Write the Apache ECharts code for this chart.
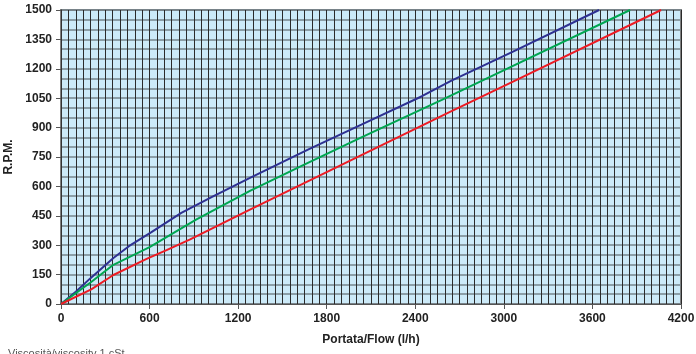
<!DOCTYPE html>
<html><head><meta charset="utf-8">
<script src="https://cdn.jsdelivr.net/npm/echarts@6/dist/echarts.min.js"></script>
<style>html,body{margin:0;padding:0;background:#fff}#c{width:696px;height:354px}</style>
</head><body><div id="c"></div>
<script>
const xTicks = [0, 600, 1200, 1800, 2400, 3000, 3600, 4200];
const yTicks = [0, 150, 300, 450, 600, 750, 900, 1050, 1200, 1350, 1500];
const blueX = [0, 100, 200, 355, 460, 610, 815, 1020, 1270, 1680, 2035, 2445, 2645, 3055, 3645];
const blueY = [0, 62, 132, 235, 295, 365, 465, 545, 640, 790, 915, 1060, 1140, 1285, 1500];
const greenX = [0, 200, 355, 600, 915, 1280, 1630, 2035, 2580, 3055, 3855];
const greenY = [0, 110, 200, 290, 430, 577, 705, 850, 1041, 1212, 1500];
const redX = [0, 205, 355, 580, 715, 875, 1280, 1630, 2035, 2635, 3055, 4065];
const redY = [0, 75, 148, 230, 275, 330, 482, 610, 760, 980, 1132, 1500];

const zip = (a, b) => a.map((v, i) => [v, b[i]]);
const chart = echarts.init(document.getElementById('c'), null, {renderer: 'canvas'});
const lbl = {color: '#222', fontFamily: 'Liberation Sans, Arial, sans-serif', fontWeight: 'bold', fontSize: 12};
const mk = (name, x, y, color) => ({
  name, type: 'line', data: zip(x, y), showSymbol: false, symbol: 'none', smooth: false,
  lineStyle: {color, width: 2}, z: 5
});
chart.setOption({
  animation: false,
  grid: {left: 61, right: 15, top: 10, bottom: 50, containLabel: false, outerBoundsMode: 'none', show: true, backgroundColor: '#cceaf8', borderColor: '#7f7f7f', borderWidth: 2},
  xAxis: {
    type: 'value', min: xTicks[0], max: xTicks[xTicks.length - 1], interval: 600,
    name: 'Portata/Flow (l/h)', nameLocation: 'middle', nameGap: 30,
    nameTextStyle: {...lbl, fontSize: 12},
    axisLabel: {...lbl, margin: 9, formatter: v => String(v)},
    axisLine: {show: true, lineStyle: {color: '#555', width: 1}},
    axisTick: {show: true, length: 5, lineStyle: {color: '#555'}},
    splitLine: {show: true, lineStyle: {color: '#2a2a2a', width: 1}},
    minorTick: {show: false, splitNumber: 12},
    minorSplitLine: {show: true, lineStyle: {color: '#2a2a2a', width: 1}}
  },
  yAxis: {
    type: 'value', min: yTicks[0], max: yTicks[yTicks.length - 1], interval: 150,
    name: 'R.P.M.', nameLocation: 'middle', nameGap: 39, nameRotate: 90,
    nameTextStyle: {...lbl, fontSize: 12},
    axisLabel: {...lbl, margin: 9, formatter: v => String(v)},
    axisLine: {show: true, lineStyle: {color: '#333', width: 1}},
    axisTick: {show: true, length: 5, lineStyle: {color: '#555'}},
    splitLine: {show: true, lineStyle: {color: '#76858c', width: 1.5}},
    minorTick: {show: false, splitNumber: 3},
    minorSplitLine: {show: true, lineStyle: {color: '#76858c', width: 1.5}}
  },
  series: [mk('blue', blueX, blueY, '#2e3192'), mk('green', greenX, greenY, '#00a651'), mk('red', redX, redY, '#ed1c24')],
  graphic: [{type: 'text', left: 8, top: 348, style: {text: 'Viscosità/viscosity 1 cSt', fill: '#555', font: '11px Liberation Sans, Arial, sans-serif'}}]
});
</script></body></html>
